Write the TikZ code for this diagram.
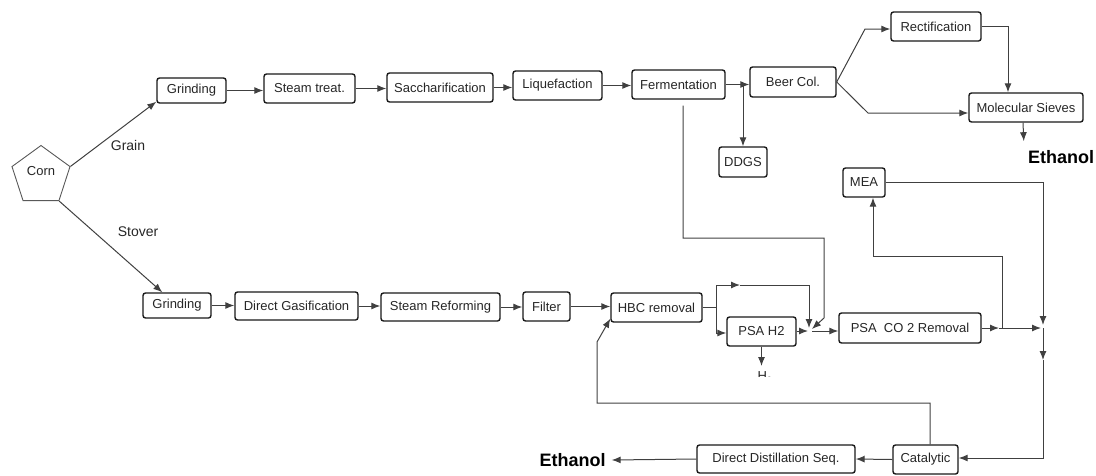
\documentclass[tikz,border=0pt]{standalone}
\usepackage{fontspec}
\setmainfont{Liberation Sans}
\usetikzlibrary{arrows.meta,shapes.geometric,calc}
\tikzset{
  box/.style={draw=black!90, line width=1.4pt, rounded corners=2.5pt, text=black!85,
    font=\fontsize{13}{15}\selectfont, inner sep=0pt},
  ln/.style={draw=black!75, line width=1pt},
  arr/.style={ln, -{Latex[length=9pt,width=7pt]}},
  lbl/.style={text=black!85, font=\fontsize{14}{16}\selectfont, inner sep=0pt},
  eth/.style={text=black, font=\fontsize{18}{20}\selectfont\bfseries, inner sep=0pt}
}
\begin{document}
\begin{tikzpicture}[x=1pt,y=-1pt]
\useasboundingbox (0,0) rectangle (1096,475);
% Corn
\node[draw=black!65, line width=0.9pt, regular polygon, regular polygon sides=5, minimum size=61pt,
  inner sep=0pt] (corn) at (41,176) {};
\node[text=black!85, font=\fontsize{13}{15}\selectfont, inner sep=0pt] (cornt) at (41,171) {Corn};
% top row
\node[box, minimum width=69pt, minimum height=25pt] (g1) at (191.5,90.5) {Grinding};
\node[box, minimum width=91pt, minimum height=29pt] (st) at (309.5,88.5) {Steam treat.};
\node[box, minimum width=106pt, minimum height=29pt] (sa) at (440,87.5) {Saccharification};
\node[box, minimum width=89pt, minimum height=29pt] (lq) at (557.5,85.5) {Liquefaction};
\node[box, minimum width=93pt, minimum height=29pt] (fe) at (678.5,84.5) {Fermentation};
\node[box, minimum width=86pt, minimum height=30pt] (bc) at (793,82) {Beer Col.};
\node[box, minimum width=90pt, minimum height=29pt] (rc) at (936,26.5) {Rectification};
\node[box, minimum width=114pt, minimum height=29pt] (ms) at (1026,107.5) {Molecular Sieves};
\node[box, minimum width=48pt, minimum height=30pt] (dd) at (743,162) {DDGS};
\node[box, minimum width=42pt, minimum height=29pt] (mea) at (864,182.5) {MEA};
\node[eth] (eth1) at (1061,157) {Ethanol};
% bottom row
\node[box, minimum width=68pt, minimum height=25pt] (g2) at (177,305.5) {Grinding};
\node[box, minimum width=123pt, minimum height=28pt] (dg) at (296.5,306) {Direct Gasification};
\node[box, minimum width=119pt, minimum height=28pt] (sr) at (440.5,307) {Steam Reforming};
\node[box, minimum width=47pt, minimum height=29pt] (fi) at (546.5,306.5) {Filter};
\node[box, minimum width=91pt, minimum height=29pt] (hbc) at (656.5,307.5) {HBC removal};
\node[box, minimum width=69pt, minimum height=29pt] (psa) at (761.5,331.5) {PSA H2};
\node[box, minimum width=142pt, minimum height=30pt] (co2) at (910,328) {PSA\ \ CO 2 Removal};
\node[box, minimum width=158pt, minimum height=28pt] (dds) at (776,459) {Direct Distillation Seq.};
\node[box, minimum width=65pt, minimum height=29pt] (cat) at (925.5,459.5) {Catalytic};
\node[eth, inner xsep=6pt] (eth2) at (572.5,460) {Ethanol};
% labels
\node[lbl] (grain) at (128,145) {Grain};
\node[lbl] (stover) at (138,232) {Stover};
% H2 clipped
\begin{scope}
\clip (700,360) rectangle (830,376);
\node[text=black!85, font=\fontsize{13}{15}\selectfont, inner sep=0pt] (h2) at (765,377.5) {H\textsubscript{2}};
\end{scope}
\coordinate (h2top) at (761.5,366);
% coordinates
\coordinate (J) at (812,331);
\coordinate (K) at (1043,328);
% corn arrows
\draw[arr] (corn.corner 5) -- ($(g1.south west)+(0,-2)$);
\draw[arr] (corn.corner 4) -- ($(g2.north west)+(20,0)$);
% top row arrows
\draw[arr] (g1.east) -- (g1.east -| st.west);
\draw[arr] (st.east) -- (st.east -| sa.west);
\draw[arr] (sa.east) -- (sa.east -| lq.west);
\draw[arr] (lq.east) -- (lq.east -| fe.west);
\draw[arr] (fe.east) -- (fe.east -| bc.west);
\draw[arr] (dd.north |- fe.east) -- (dd.north);
\draw[arr] (bc.east) -- (865,29) -- (rc.west |- 865,29);
\draw[arr] (bc.east) -- (868,113) -- (ms.west |- 868,113);
\draw[arr] (rc.east) -| ($(ms.north)+(-18,0)$);
\draw[arr] ($(ms.south)+(-3,0)$) -- ($(eth1.north west)+(-4,-9)$);
% bottom row arrows
\draw[arr] (g2.east) -- (g2.east -| dg.west);
\draw[arr] (dg.east) -- (dg.east -| sr.west);
\draw[arr] (sr.east) -- (sr.east -| fi.west);
\draw[arr] (fi.east) -- (fi.east -| hbc.west);
% HBC splits
\draw[ln] (hbc.east) -- (716,307.5);
\draw[arr] (716,307.5) -- (716,333) -- (psa.west |- 716,333);
\draw[arr] (716,307.5) -- (716,285) -- (740,285);
\draw[arr] (740,285) -- (809,285) -- ($(J)+(-3,-3)$);
\draw[arr] (psa.east |- J) -- ($(J)+(-4,0)$);
\draw[arr] (psa.south) -- (h2top);
% fermentation line
\draw[arr] ($(fe.south)+(4.5,6)$) -- (683,238) -- (824,238) -- (824,318) -- ($(J)+(0,-2)$);
\draw[arr] (J) -- (J -| co2.west);
% PSA CO2 outputs
\draw[arr] (co2.east) -- (999,328);
\draw[arr] (999,328) -- ($(K)+(-2,0)$);
\draw[arr] (1002,328) -- (1002,256) -- (873,256) -- ($(mea.south)+(9,0)$);
\draw[arr] (mea.east) -- (1043,182.5) -- ($(K)+(0,-3)$);
\draw[arr] (K) -- (1043,360);
\draw[arr] (1043,360) -- (1043,458) -- (cat.east |- 1043,458);
% catalytic
\draw[arr] (cat.west) -- (dds.east);
\draw[arr] (dds.west) -- (eth2.east);
\draw[arr] (cat.north -| 930,0) -- (930,403) -- (597,403) -- (597,342) -- ($(hbc.south west)+(0,-4)$);
\end{tikzpicture}
\end{document}
